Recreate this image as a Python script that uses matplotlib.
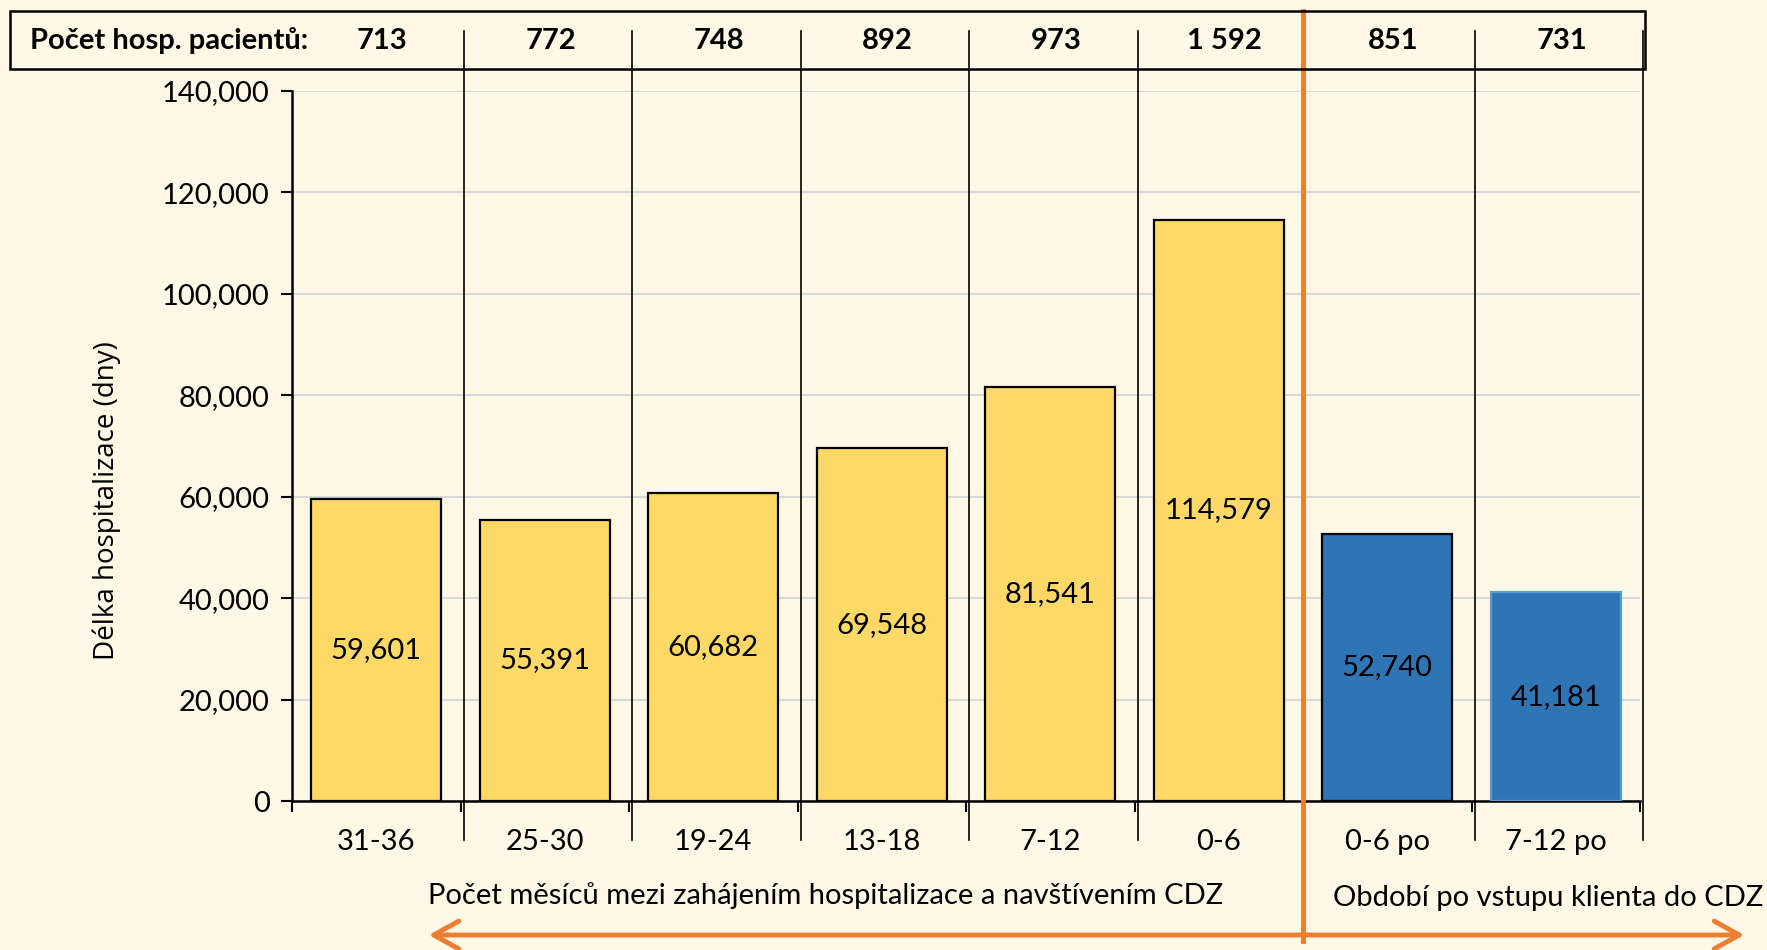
import numpy as np
import matplotlib
matplotlib.use("Agg")
import matplotlib.pyplot as plt
from matplotlib.patches import Rectangle, FancyArrowPatch
from matplotlib.ticker import FuncFormatter
import matplotlib.transforms as mtransforms

# data
categories = ["31-36", "25-30", "19-24", "13-18", "7-12", "0-6", "0-6 po", "7-12 po"]
days = [59601, 55391, 60682, 69548, 81541, 114579, 52740, 41181]
patients = ["713", "772", "748", "892", "973", "1 592", "851", "731"]
n_before = 6  # first six categories are before entering CDZ

BG = "#FFF8E7"
YELLOW = "#FFD966"
BLUE = "#2E75B6"
ORANGE = "#ED7D31"
FS = 21

plt.rcParams["font.family"] = ["Lato", "DejaVu Sans"]

fig = plt.figure(figsize=(17.67, 9.5), dpi=100, facecolor=BG)
W, H = 1767, 950
ax = fig.add_axes([292 / W, 1 - 801 / H, (1640 - 292) / W, (801 - 91) / H])
ax.set_facecolor(BG)

x = np.arange(len(categories))
colors = [YELLOW] * n_before + [BLUE] * (len(categories) - n_before)
edges = ["black"] * (len(categories) - 1) + ["#5B9BD5"]
ax.bar(x, days, width=0.77, color=colors, edgecolor=edges, linewidth=1.6, zorder=3)

# value labels in the middle of each bar
for xi, v in zip(x, days):
    ax.text(xi, v / 2, f"{v:,}", ha="center", va="center", fontsize=FS, zorder=4)

ax.set_xlim(-0.5, len(categories) - 0.5)
ax.set_ylim(0, 140000)
ax.set_yticks(np.arange(0, 140001, 20000))
ax.yaxis.set_major_formatter(FuncFormatter(lambda v, p: f"{int(v):,}"))
ax.tick_params(axis="y", labelsize=FS, length=8, width=1.5, pad=8)
ax.yaxis.grid(True, color="#D9D9D9", linewidth=1.5, zorder=0)

bounds = np.arange(-0.5, len(categories), 1.0)
ax.set_xticks(bounds)
ax.set_xticklabels([])
ax.set_xticks(x, minor=True)
ax.set_xticklabels(categories, minor=True)
ax.tick_params(axis="x", which="major", length=8, width=1.5)
ax.tick_params(axis="x", which="minor", length=0, labelsize=FS, pad=20)

for s in ["top", "right"]:
    ax.spines[s].set_visible(False)
for s in ["left", "bottom"]:
    ax.spines[s].set_linewidth(1.8)

ax.set_ylabel("Délka hospitalizace (dny)", fontsize=20,
              family=["Open Sans", "DejaVu Sans"])
ax.yaxis.set_label_coords(-0.127, 0.4225)

# long category separators, from header down past the tick labels
trans = mtransforms.blended_transform_factory(ax.transData, ax.transAxes)
y_top = (801 - 31) / 710
y_bot = (801 - 840) / 710
for b in bounds[1:]:
    if b == n_before - 0.5:
        continue
    ax.plot([b + 0.02, b + 0.02], [y_bot, y_top], color="black", lw=1.2,
            transform=trans, clip_on=False, zorder=2)

# header box with patient counts
fig.patches.append(Rectangle((10 / W, 1 - 69 / H), (1645 - 10) / W, 58 / H,
                             transform=fig.transFigure, fill=False,
                             edgecolor="black", linewidth=1.8))
yh = 1 - 41 / H
fig.text(30 / W, yh, "Počet hosp. pacientů:", fontsize=FS, fontweight="bold",
         ha="left", va="center")
for xi, p in zip(x, patients):
    xf = fig.transFigure.inverted().transform(ax.transData.transform((xi + 0.035, 0)))[0]
    fig.text(xf, yh, p, fontsize=FS, fontweight="bold", ha="center", va="center")

# orange split line
xs = n_before - 0.5
ax.plot([xs, xs], [(801 - 941) / 710, (801 - 11) / 710], color=ORANGE, lw=3.5,
        transform=trans, clip_on=False, zorder=5)

# group captions
fig.text(826 / W, 1 - 896 / H, "Počet měsíců mezi zahájením hospitalizace a navštívením CDZ",
         fontsize=FS, ha="center", va="center")
fig.text(1548 / W, 1 - 898 / H, "Období po vstupu klienta do CDZ",
         fontsize=FS, ha="center", va="center")

# double arrow
fig.add_artist(FancyArrowPatch(
    (426 / W, 1 - 935 / H), (1747 / W, 1 - 935 / H), transform=fig.transFigure,
    arrowstyle="<->,head_length=0.9,head_width=0.5", mutation_scale=20,
    color=ORANGE, lw=3.5))

fig.savefig("out.png", dpi=100, facecolor=BG)
